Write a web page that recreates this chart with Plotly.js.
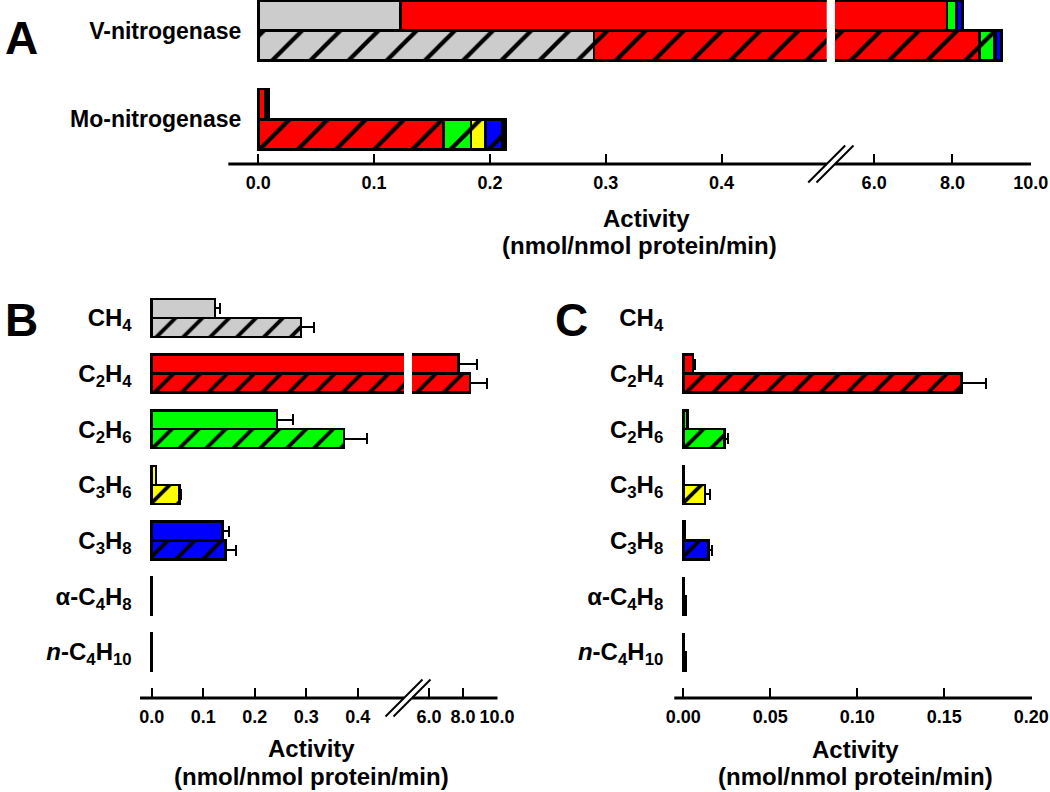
<!DOCTYPE html>
<html><head><meta charset="utf-8">
<script src="https://cdn.plot.ly/plotly-3.0.1.min.js"></script>
<style>html,body{margin:0;padding:0;background:#fff}#chart{width:1050px;height:792px}</style>
</head><body><div id="chart"></div>
<script>
// ---------- data ----------
const gasLabels = ['CH<sub>4</sub>','C<sub>2</sub>H<sub>4</sub>','C<sub>2</sub>H<sub>6</sub>','C<sub>3</sub>H<sub>6</sub>','C<sub>3</sub>H<sub>8</sub>','\u03b1-C<sub>4</sub>H<sub>8</sub>','<i>n</i>-C<sub>4</sub>H<sub>10</sub>'];
const enzymes = ['V-nitrogenase','Mo-nitrogenase'];
const gasColors = ['#CCCCCC','#FF0000','#00FF00','#FFFF00','#0000FF','#800080','#008080'];
// V-nitrogenase (panel B): solid and hatched conditions
const vSolid    = [0.123, 7.74, 0.243, 0.008, 0.137, 0.001, 0.001];
const vSolidErr = [0.009, 1.10, 0.032, 0,     0.014, 0,     0    ];
const vHatch    = [0.290, 8.40, 0.373, 0.054, 0.143, 0.001, 0.001];
const vHatchErr = [0.026, 1.00, 0.045, 0.003, 0.021, 0,     0    ];
// Mo-nitrogenase (panel C)
const moSolid    = [null, 0.0057, 0.0023, 0.0005, 0.0006, 0,      0     ];
const moSolidErr = [null, 0.0012, 0.0004, 0,      0,      0,      0     ];
const moHatch    = [null, 0.1600, 0.0236, 0.0125, 0.0144, 0.0014, 0.0014];
const moHatchErr = [null, 0.0140, 0.0021, 0.0028, 0.0021, 0,      0     ];
// tick values
const ticksLow  = [0, 0.1, 0.2, 0.3, 0.4];
const ticksHigh = [6, 8, 10];
const ticksC    = [0, 0.05, 0.10, 0.15, 0.20];

// ---------- helpers ----------
const W = 1050, H = 792;
const fx = p => p / W;
const fy = p => 1 - p / H;
const FONT = 'Arial, "Liberation Sans", sans-serif';
const OFF = 0.17, BW = 0.34;

function bars(xs, ys, color, hatched, xa, ya, errs, patSize, sol) {
  const t = {
    type: 'bar', orientation: 'h', x: xs, y: ys, width: BW,
    xaxis: xa, yaxis: ya, hoverinfo: 'skip',
    marker: { color: color, line: { color: 'black', width: 2.5 } }
  };
  if (hatched) t.marker.pattern = { shape: '/', fgcolor: '#000000', fgopacity: 1, fillmode: 'overlay', size: patSize, solidity: sol };
  if (errs) t.error_x = { type: 'data', symmetric: false, array: errs, arrayminus: errs.map(e => e === null ? null : 0),
                          color: 'black', thickness: 2, width: 5.5 };
  return t;
}

const traces = [];
// Panel A: stacked, V and Mo rows
gasLabels.forEach((g, i) => {
  ['x', 'x2'].forEach(xa => {
    traces.push(bars([vSolid[i], moSolid[i]], enzymes.map((e, k) => k - OFF), gasColors[i], false, xa, 'y', null, 27, 0.16));
    traces.push(bars([vHatch[i], moHatch[i]], enzymes.map((e, k) => k + OFF), gasColors[i], true, xa, 'y', null, 27, 0.16));
  });
});
// Panels B and C: one solid and one hatched bar per gas
gasLabels.forEach((g, i) => {
  ['x3', 'x4'].forEach(xa => {
    traces.push(bars([vSolid[i]], [i - OFF], gasColors[i], false, xa, 'y2', [vSolidErr[i]], 19, 0.2));
    traces.push(bars([vHatch[i]], [i + OFF], gasColors[i], true, xa, 'y2', [vHatchErr[i]], 19, 0.2));
  });
  traces.push(bars([moSolid[i]], [i - OFF], gasColors[i], false, 'x5', 'y3', [moSolidErr[i]], 19, 0.2));
  traces.push(bars([moHatch[i]], [i + OFF], gasColors[i], true, 'x5', 'y3', [moHatchErr[i]], 19, 0.2));
});

// ---------- axes ----------
function xAxis(domPx, range, tickvals, fmt, anchor) {
  return {
    domain: [fx(domPx[0]), fx(domPx[1])], range: range, anchor: anchor,
    tickmode: 'array', tickvals: tickvals, tickformat: fmt, tickangle: 0,
    ticks: 'inside', ticklen: 10, tickwidth: 2, tickcolor: 'black',
    showgrid: false, zeroline: false, showline: false, fixedrange: true,
    tickfont: { size: 18, family: FONT, color: 'black', weight: 'bold' }, ticklabelstandoff: 6
  };
}
function yAxis(domPx, range, labels, anchor, size, standoff) {
  return {
    domain: [fy(domPx[1]), fy(domPx[0])], range: range, anchor: anchor,
    tickmode: 'array', tickvals: labels.map((l, i) => i), ticktext: labels,
    ticks: '', showgrid: false, zeroline: false, showline: false, fixedrange: true,
    tickfont: { size: size, family: FONT, color: 'black', weight: 'bold' }, ticklabelstandoff: standoff
  };
}

// panel A scale: 0 at 258.3px, 1158 px/unit; upper segment 5..10 over 835..1030.7
const aZero = 258.3, aScale = 1158, aBreak = 826.7;
const bZero = 151.7, bScale = 515, bBreak = 404;
const cZero = 683.3, cScale = 1740;

const layout = {
  width: W, height: H, margin: { l: 0, r: 0, t: 0, b: 0 },
  paper_bgcolor: 'white', plot_bgcolor: 'rgba(0,0,0,0)',
  barmode: 'stack', showlegend: false,
  font: { family: FONT, color: 'black', weight: 'bold' },
  xaxis:  xAxis([aZero - 2, aBreak], [-2 / aScale, (aBreak - aZero) / aScale], ticksLow, '.1f', 'y'),
  xaxis2: xAxis([835, 1030.7], [5, 10], ticksHigh, '.1f', 'y'),
  xaxis3: xAxis([bZero - 2, bBreak], [-2 / bScale, (bBreak - bZero) / bScale], ticksLow, '.1f', 'y2'),
  xaxis4: xAxis([412, 497], [5, 10], ticksHigh, '.1f', 'y2'),
  xaxis5: xAxis([cZero - 2, 1031.3], [-2 / cScale, 0.2], ticksC, '.2f', 'y3'),
  yaxis:  yAxis([0, 164], [1.503, -0.343], enzymes, 'x', 23, 14),
  yaxis2: yAxis([290, 698], [6.828, -0.501], gasLabels, 'x3', 24, 17),
  yaxis3: yAxis([290, 698], [6.828, -0.501], gasLabels, 'x5', 24, 17),
  shapes: [],
  annotations: []
};

function line(x0, y0, x1, y1, w) {
  layout.shapes.push({ type: 'line', xref: 'paper', yref: 'paper', x0: fx(x0), y0: fy(y0), x1: fx(x1), y1: fy(y1),
                       line: { color: 'black', width: w }, layer: 'above' });
}
function slash(cx, cy) { line(cx - 18.5, cy + 18.5, cx + 18.5, cy - 18.5, 2); }
// axis baselines with breaks
line(228.3, 164, aBreak, 164, 3); line(835, 164, 1031, 164, 3); slash(aBreak, 164); slash(835, 164);
line(140, 698, bBreak, 698, 3); line(412, 698, 497.5, 698, 3); slash(bBreak, 698); slash(412, 698);
line(674.3, 698, 1032, 698, 3);

function ann(text, x, y, size, xanchor) {
  layout.annotations.push({ text: text, x: fx(x), y: fy(y), xref: 'paper', yref: 'paper', showarrow: false,
    xanchor: xanchor || 'center', yanchor: 'middle',
    font: { size: size, family: FONT, color: 'black', weight: 'bold' } });
}
ann('A', 3, 38.3, 46, 'left');
ann('B', 3, 320.5, 46, 'left');
ann('C', 553, 320.5, 46, 'left');
ann('Activity', 646, 218, 24);
ann('(nmol/nmol protein/min)', 639, 245.5, 24);
ann('Activity', 311, 748.7, 24);
ann('(nmol/nmol protein/min)', 311, 776.5, 24);
ann('Activity', 855, 749.5, 24);
ann('(nmol/nmol protein/min)', 855, 776.5, 24);

Plotly.newPlot('chart', traces, layout, { staticPlot: true, displayModeBar: false });
</script>
</body></html>
